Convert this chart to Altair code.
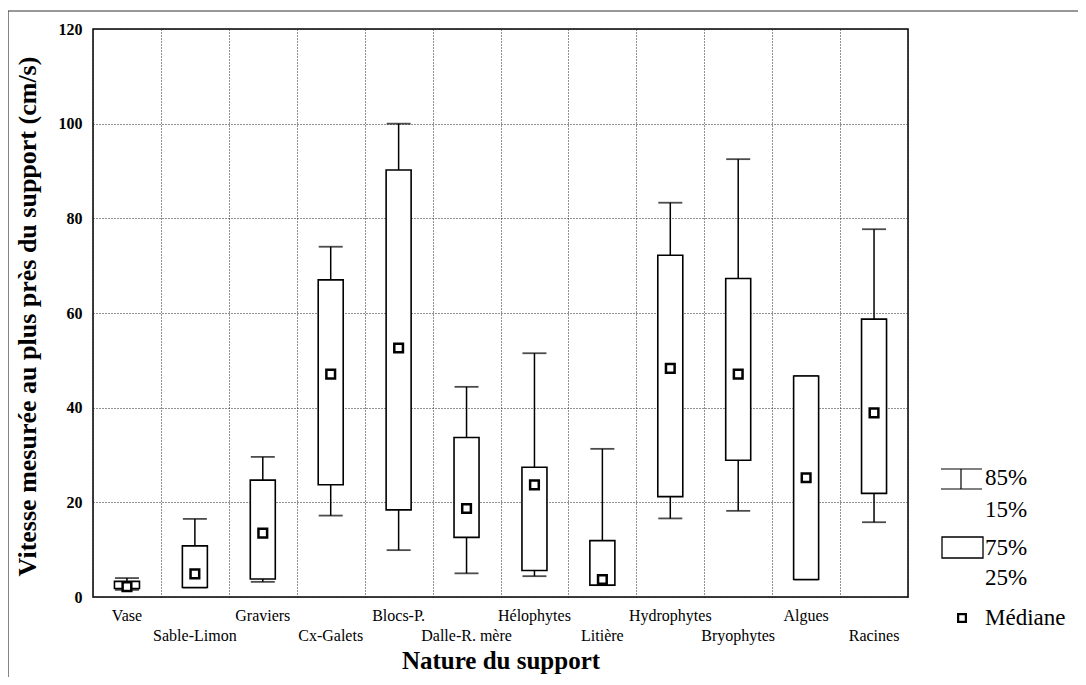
import altair as alt
import pandas as pd

categories = ["Vase", "Sable-Limon", "Graviers", "Cx-Galets", "Blocs-P.", "Dalle-R. mère",
              "Hélophytes", "Litière", "Hydrophytes", "Bryophytes", "Algues", "Racines"]
p15 = [1.5, 2.0, 3.2, 17.2, 9.9, 5.0, 4.4, 2.5, 16.6, 18.2, 3.7, 15.8]
p25 = [1.8, 2.0, 3.8, 23.7, 18.4, 12.6, 5.6, 2.5, 21.2, 28.9, 3.7, 21.9]
median = [2.2, 4.9, 13.5, 47.1, 52.6, 18.7, 23.7, 3.7, 48.3, 47.1, 25.2, 38.9]
p75 = [3.3, 10.8, 24.7, 67.0, 90.2, 33.7, 27.4, 11.9, 72.2, 67.3, 46.7, 58.7]
p85 = [4.0, 16.5, 29.6, 74.0, 100.0, 44.4, 51.5, 31.3, 83.3, 92.5, 46.7, 77.7]
y_ticks = [0, 20, 40, 60, 80, 100, 120]
legend_labels = ["85%", "15%", "75%", "25%", "Médiane"]

FONT = "Liberation Serif"
W, H = 815, 568

df = pd.DataFrame({"cat": categories, "p15": p15, "p25": p25, "med": median,
                   "p75": p75, "p85": p85})
df["row"] = [i % 2 for i in range(len(categories))]

xenc = alt.X("cat:N", sort=categories, scale=alt.Scale(paddingInner=0, paddingOuter=0),
             axis=alt.Axis(labels=False, ticks=False, domain=False, grid=True, tickBand="extent",
                           gridDash=[1, 2], gridColor="#222", gridWidth=1,
                           title="Nature du support", titleFont=FONT, titleFontSize=25,
                           titleFontWeight="bold", titleColor="black", titlePadding=51))
yscale = alt.Scale(domain=[0, 120], nice=False)
yaxis = alt.Axis(values=y_ticks, grid=True, gridDash=[1, 2], gridColor="#222", gridWidth=1,
                 ticks=False, domain=False, labelFont=FONT, labelFontSize=16, labelFontWeight="bold",
                 labelColor="black", labelPadding=11,
                 title="Vitesse mesurée au plus près du support (cm/s)", titleFont=FONT,
                 titleFontSize=26, titleFontWeight="bold", titleColor="black",
                 titleX=-53, titleY=287, titleAngle=270, titleBaseline="bottom", titleAlign="center")

base = alt.Chart(df)

whisk_hi = base.mark_rule(color="black", strokeWidth=1.5).encode(
    x=xenc, y=alt.Y("p75:Q", scale=yscale, axis=yaxis), y2="p85:Q")
whisk_lo = base.mark_rule(color="black", strokeWidth=1.5).encode(
    x=alt.X("cat:N", sort=categories), y=alt.Y("p15:Q"), y2="p25:Q")
cap_hi = base.mark_tick(color="black", thickness=1.8, size=24).encode(
    x=alt.X("cat:N", sort=categories), y=alt.Y("p85:Q"))
cap_lo = base.mark_tick(color="black", thickness=1.8, size=24).encode(
    x=alt.X("cat:N", sort=categories), y=alt.Y("p15:Q"))
box = base.mark_bar(fill="white", stroke="black", strokeWidth=1.6, size=25).encode(
    x=alt.X("cat:N", sort=categories), y=alt.Y("p25:Q"), y2="p75:Q")
med = base.mark_point(shape="square", size=75, filled=False, fill="white", fillOpacity=1,
                      stroke="black", strokeWidth=2.5, opacity=1).encode(
    x=alt.X("cat:N", sort=categories), y=alt.Y("med:Q"))

lab_top = base.transform_filter("datum.row == 0").mark_text(
    font=FONT, fontSize=16, color="black", baseline="middle").encode(
    x=alt.X("cat:N", sort=categories), y=alt.value(H + 19), text="cat:N")
lab_bot = base.transform_filter("datum.row == 1").mark_text(
    font=FONT, fontSize=16, color="black", baseline="middle").encode(
    x=alt.X("cat:N", sort=categories), y=alt.value(H + 39), text="cat:N")

one = alt.Chart(pd.DataFrame({"k": [0]}))
# legend symbols
lg_w1 = one.mark_rule(color="black", strokeWidth=1).encode(
    x=alt.value(848), x2=alt.value(889), y=alt.value(440))
lg_w2 = one.mark_rule(color="black", strokeWidth=1).encode(
    x=alt.value(848), x2=alt.value(889), y=alt.value(460))
lg_w3 = one.mark_rule(color="black", strokeWidth=1.2).encode(
    x=alt.value(868), y=alt.value(440), y2=alt.value(460))
lg_box = one.mark_rect(fill="white", stroke="black", strokeWidth=1.3).encode(
    x=alt.value(849), x2=alt.value(890), y=alt.value(508), y2=alt.value(529))
lg_med = one.mark_point(shape="square", size=60, filled=False, stroke="black",
                        strokeWidth=2.2, opacity=1).encode(x=alt.value(869), y=alt.value(589))
lg_ys = [449, 481, 519, 549, 589]
lg_txt = [one.mark_text(font=FONT, fontSize=23, color="black", align="left", baseline="middle").encode(
    x=alt.value(892), y=alt.value(yy), text=alt.value(t))
          for t, yy in zip(legend_labels, lg_ys)]

# outer frame (top and left edges)
fr_top = one.mark_rule(color="#333", strokeWidth=1.2).encode(
    x=alt.value(-85), x2=alt.value(W + 180), y=alt.value(-18))
fr_left = one.mark_rule(color="#333", strokeWidth=1.2).encode(
    x=alt.value(-85), y=alt.value(-18), y2=alt.value(H + 100))

chart = alt.layer(whisk_hi, whisk_lo, cap_hi, cap_lo, box, med, lab_top, lab_bot,
                  lg_w1, lg_w2, lg_w3, lg_box, lg_med, *lg_txt, fr_top, fr_left).properties(
    width=W, height=H,
    autosize=alt.AutoSizeParams(type="none"),
    padding={"left": 85, "top": 21, "right": 170, "bottom": 80},
).configure_view(stroke="black", strokeWidth=1.5)

chart.save("out.html", embed_options={"renderer": "svg", "actions": False})
